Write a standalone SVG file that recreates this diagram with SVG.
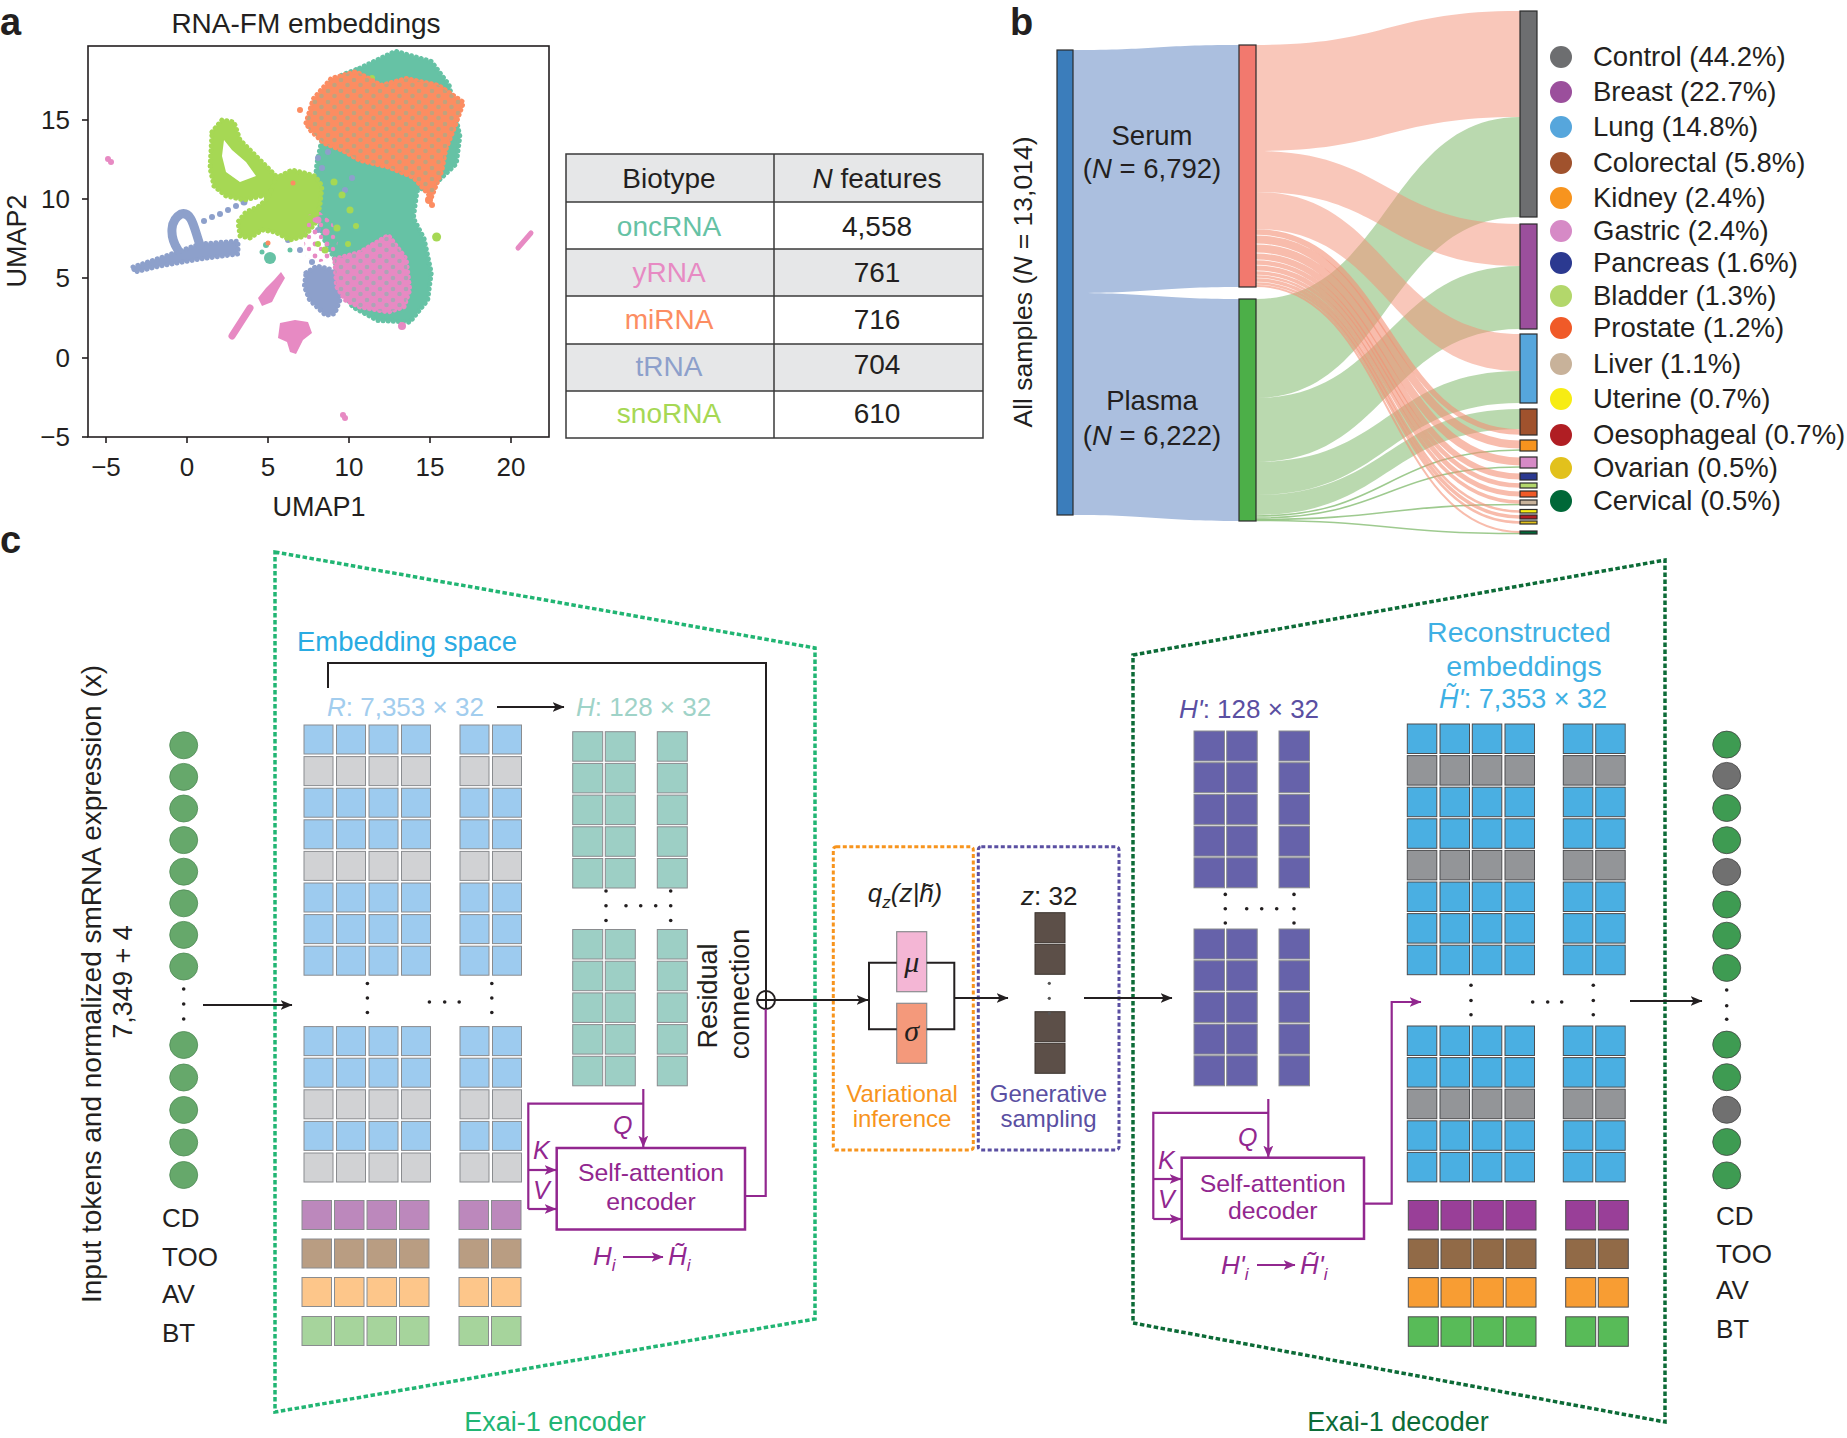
<svg xmlns="http://www.w3.org/2000/svg" width="1847" height="1438" viewBox="0 0 1847 1438">
<style>
text{font-family:'Liberation Sans',Arial,sans-serif;fill:#231f20}
.lbl{font-weight:bold;font-size:38px}
.cell{stroke:#8a8c8f;stroke-width:1}
.dcell{stroke:#4d4d4f;stroke-width:1}
.ln{fill:none;stroke:#231f20;stroke-width:2}
.pl{fill:none;stroke:#92278f;stroke-width:2.2}
.pt{fill:#92278f;font-style:italic}
.dot{fill:#231f20}
.bar{stroke:#2b2b2b;stroke-width:1.2}
.dl{stroke-width:5;stroke-linecap:round;stroke-linejoin:round;stroke-dasharray:0.1 5}
.gfl{fill:#75b35f;opacity:0.5}
.sfl{fill:#f38f75;opacity:0.5}
.gln{fill:none;stroke:#75b35f;stroke-opacity:0.7;stroke-width:1.6}
.sln{fill:none;stroke:#f38f75;stroke-opacity:0.6}
</style>
<defs>
<marker id="ah" viewBox="0 0 12 10" refX="11.5" refY="5" markerWidth="12" markerHeight="10" markerUnits="userSpaceOnUse" orient="auto"><path d="M0,0 L12,5 L0,10 L3,5 Z" fill="#231f20"/></marker>
<marker id="ap" viewBox="0 0 12 10" refX="11.5" refY="5" markerWidth="12" markerHeight="10" markerUnits="userSpaceOnUse" orient="auto"><path d="M0,0 L12,5 L0,10 L3,5 Z" fill="#92278f"/></marker>
<pattern id="gsp" width="13" height="11" patternUnits="userSpaceOnUse"><circle cx="3" cy="3" r="2.3" fill="#66c2a5"/><circle cx="9.5" cy="8" r="2.3" fill="#66c2a5"/></pattern>
<pattern id="psp" width="12" height="12" patternUnits="userSpaceOnUse"><circle cx="3" cy="4" r="2.4" fill="#e78ac3"/><circle cx="9" cy="9" r="2.2" fill="#e78ac3"/></pattern>
<clipPath id="pc"><rect x="88" y="46" width="461" height="391"/></clipPath>
<g id="er" class="cell"><rect x="304" width="29" height="29"/><rect x="336.5" width="29" height="29"/><rect x="369" width="29" height="29"/><rect x="401.5" width="29" height="29"/><rect x="460" width="29" height="29"/><rect x="492.5" width="29" height="29"/></g>
<g id="ef" class="cell"><rect x="302" width="29.5" height="29"/><rect x="334.5" width="29.5" height="29"/><rect x="367" width="29.5" height="29"/><rect x="399.5" width="29.5" height="29"/><rect x="459" width="29.5" height="29"/><rect x="491.5" width="29.5" height="29"/></g>
<g id="hr" class="cell"><rect x="572.7" width="30" height="29.5"/><rect x="605.3" width="30" height="29.5"/><rect x="657.3" width="30" height="29.5"/></g>
<g id="pr" class="cell"><rect x="1194" width="30.5" height="30"/><rect x="1226.7" width="30.5" height="30"/><rect x="1279" width="30.5" height="30"/></g>
<g id="dr" class="dcell"><rect x="1407.3" width="29.5" height="29.5"/><rect x="1440" width="29.5" height="29.5"/><rect x="1472.3" width="29.5" height="29.5"/><rect x="1505" width="29.5" height="29.5"/><rect x="1563.3" width="29.5" height="29.5"/><rect x="1595.7" width="29.5" height="29.5"/></g>
<g id="df" class="dcell"><rect x="1408.3" width="30" height="29.5"/><rect x="1441" width="30" height="29.5"/><rect x="1473.3" width="30" height="29.5"/><rect x="1506" width="30" height="29.5"/><rect x="1565.7" width="30" height="29.5"/><rect x="1598.3" width="30" height="29.5"/></g>
</defs>
<rect width="1847" height="1438" fill="#fff"/>

<!-- Panel labels -->
<text class="lbl" x="0" y="35">a</text>
<text class="lbl" x="1010" y="35">b</text>
<text class="lbl" x="0" y="553">c</text>

<!-- Panel a: UMAP -->
<g id="umap">
<text x="306" y="33" font-size="28" text-anchor="middle">RNA-FM embeddings</text>
<g clip-path="url(#pc)">
<path d="M359.7,68.2 L395.5,51.2 L431.3,61.4 L449.2,85.3 L459.9,136.4 L456.3,163.7 L438.4,180.7 L417,191 L413.4,218.2 L424.1,238.7 L431.3,272.8 L427.7,300 L409.8,322.2 L377.6,320.5 L352.6,306.9 L338.2,283 L334.7,259.1 L323.9,238.7 L313.2,204.6 L316.8,163.7 L323.9,129.6 L316.8,102.3 L341.8,75.1 Z" fill="#66c2a5" stroke="#66c2a5" class="dl"/>
<path d="M133,267 L160,258 L200,244 L238,241 L238,254 L200,259 L160,266 L135,272 Z" fill="#8da0cb" stroke="#8da0cb" class="dl"/>
<path d="M178,250 C169,236 170,220 181,214 C192,211 194,228 200,245" fill="none" stroke="#8da0cb" stroke-width="9" stroke-linecap="round"/>
<g fill="#8da0cb"><circle cx="204" cy="221" r="3"/><circle cx="212" cy="217" r="3"/><circle cx="220" cy="214" r="3"/><circle cx="228" cy="210" r="3"/><circle cx="236" cy="206" r="3"/><circle cx="244" cy="202" r="3.5"/><circle cx="300" cy="190" r="3"/><circle cx="310" cy="205" r="3"/><circle cx="296" cy="225" r="3"/><circle cx="288" cy="240" r="3"/><circle cx="300" cy="250" r="3"/><circle cx="318" cy="230" r="3"/><circle cx="306" cy="178" r="3"/><circle cx="322" cy="168" r="3"/><circle cx="328" cy="152" r="3"/><circle cx="318" cy="158" r="3"/><circle cx="345" cy="190" r="3"/><circle cx="352" cy="178" r="3"/><circle cx="312" cy="262" r="3"/></g>
<path d="M212,132 L222,120 L234,122 L240,140 L252,152 L268,168 L286,186 L280,196 L262,196 L244,200 L226,196 L214,186 L210,168 Z" fill="#a6d854" stroke="#a6d854" class="dl"/>
<path d="M224,140 L232,150 L246,162 L256,176 L240,182 L226,172 L222,156 Z" fill="#fff"/>
<path d="M276,178 L292,170 L305,173 L315,176 L322,186 L320,205 L316,222 L305,236 L290,240 L275,232 L262,230 L250,238 L240,236 L238,222 L246,212 L258,207 L268,198 Z" fill="#a6d854" stroke="#a6d854" class="dl"/>
<path d="M308,215 L320,212 L332,222 L338,240 L335,258 L320,262 L306,258 L304,240 Z" fill="url(#psp)"/>
<g fill="#a6d854"><circle cx="334" cy="182" r="3.5"/><circle cx="342" cy="195" r="3.5"/><circle cx="350" cy="210" r="3.5"/><circle cx="337" cy="228" r="3.5"/><circle cx="356" cy="226" r="3"/><circle cx="348" cy="244" r="3"/><circle cx="325" cy="250" r="3.5"/><circle cx="318" cy="244" r="3"/><circle cx="436.6" cy="237" r="4.5"/><circle cx="372" cy="78" r="3"/><circle cx="380" cy="92" r="3"/><circle cx="370" cy="117" r="2.5"/></g>
<path d="M306,272.8 L316.8,266 L331.1,269.4 L338.2,279.6 L340,300 L334.7,313.7 L325.7,315.4 L309.6,300 L304.3,286.4 Z" fill="#8da0cb" stroke="#8da0cb" class="dl"/>
<path d="M334.7,259.1 L359.7,252.3 L388.3,235.3 L406.2,259.1 L409.8,289.8 L404,306.9 L388.3,312 L359.7,306.9 L345.4,300 L336.5,286.4 Z" fill="#e78ac3" stroke="#e78ac3" class="dl"/>
<path d="M334.7,259.1 L359.7,252.3 L388.3,235.3 L406.2,259.1 L409.8,289.8 L404,306.9 L388.3,312 L359.7,306.9 L345.4,300 L336.5,286.4 Z" fill="url(#gsp)" opacity="0.45"/>
<path d="M306,122.8 L313.2,98.9 L331.1,78.5 L356.1,71.6 L381.2,85.3 L406.2,78.5 L438.4,85.3 L463.5,102.3 L456.3,122.8 L445.6,150 L442,170.5 L431.3,197.8 L413.4,177.3 L388.3,167.1 L359.7,160.3 L341.8,150 L323.9,143.2 L309.6,129.6 Z" fill="#fc8d62" stroke="#fc8d62" class="dl"/>
<path d="M306,122.8 L313.2,98.9 L331.1,78.5 L356.1,71.6 L381.2,85.3 L406.2,78.5 L438.4,85.3 L463.5,102.3 L456.3,122.8 L445.6,150 L442,170.5 L431.3,197.8 L413.4,177.3 L388.3,167.1 L359.7,160.3 L341.8,150 L323.9,143.2 L309.6,129.6 Z" fill="url(#gsp)" opacity="0.4"/>
<g fill="#e78ac3">
<path d="M281,272 L285,278 L278,290 L272,302 L262,306 L258,298 L266,288 L274,280 Z"/>
<path d="M250,308 L232,336" stroke="#e78ac3" stroke-width="7" stroke-linecap="round"/>
<path d="M280,323 L295,320 L308,322 L312,333 L303,340 L296,354 L290,352 L287,342 L278,338 Z"/>
<circle cx="108" cy="159" r="3"/><circle cx="111" cy="162" r="3"/><circle cx="343" cy="415" r="3"/><circle cx="345" cy="418" r="3"/>
<path d="M518,248 L531,233" stroke="#e78ac3" stroke-width="5" stroke-linecap="round"/>
<circle cx="318" cy="220" r="3.5"/><circle cx="326" cy="232" r="3.5"/><circle cx="402" cy="326" r="4"/></g>
<g fill="#66c2a5"><circle cx="270" cy="258" r="6"/><circle cx="266" cy="245" r="3"/><circle cx="262" cy="252" r="2.5"/><circle cx="290" cy="250" r="2.5"/></g>
<g fill="#fc8d62"><circle cx="429" cy="200" r="4"/><circle cx="432" cy="205" r="3"/><circle cx="300" cy="110" r="3"/><circle cx="293" cy="183" r="2.5"/><circle cx="268" cy="243" r="2.5"/></g>
</g>
<rect x="88" y="46" width="461" height="391" fill="none" stroke="#231f20" stroke-width="1.6"/>
<g stroke="#231f20" stroke-width="1.6">
<line x1="82" y1="120" x2="88" y2="120"/><line x1="82" y1="199" x2="88" y2="199"/><line x1="82" y1="278" x2="88" y2="278"/><line x1="82" y1="358" x2="88" y2="358"/><line x1="82" y1="437" x2="88" y2="437"/>
<line x1="106" y1="437" x2="106" y2="443"/><line x1="187" y1="437" x2="187" y2="443"/><line x1="268" y1="437" x2="268" y2="443"/><line x1="349" y1="437" x2="349" y2="443"/><line x1="430" y1="437" x2="430" y2="443"/><line x1="511" y1="437" x2="511" y2="443"/>
</g>
<g font-size="26" text-anchor="end">
<text x="70" y="129">15</text><text x="70" y="208">10</text><text x="70" y="287">5</text><text x="70" y="367">0</text><text x="70" y="446">−5</text>
</g>
<g font-size="26" text-anchor="middle">
<text x="106" y="476">−5</text><text x="187" y="476">0</text><text x="268" y="476">5</text><text x="349" y="476">10</text><text x="430" y="476">15</text><text x="511" y="476">20</text>
<text x="319" y="516" font-size="27">UMAP1</text>
<text transform="translate(26,241) rotate(-90)" font-size="27">UMAP2</text>
</g>
</g>

<!-- Panel a: table -->
<g id="table">
<rect x="566" y="154" width="417" height="48" fill="#e6e7e8"/>
<rect x="566" y="249" width="417" height="47" fill="#e6e7e8"/>
<rect x="566" y="344" width="417" height="47" fill="#e6e7e8"/>
<g stroke="#3a3a3a" stroke-width="1.5" fill="none">
<rect x="566" y="154" width="417" height="284"/>
<line x1="774" y1="154" x2="774" y2="438"/>
<line x1="566" y1="202" x2="983" y2="202"/><line x1="566" y1="249" x2="983" y2="249"/><line x1="566" y1="296" x2="983" y2="296"/><line x1="566" y1="344" x2="983" y2="344"/><line x1="566" y1="391" x2="983" y2="391"/>
</g>
<g font-size="28" text-anchor="middle">
<text x="669" y="188">Biotype</text>
<text x="877" y="188"><tspan font-style="italic">N</tspan> features</text>
<text x="669" y="236" style="fill:#66c2a5">oncRNA</text><text x="877" y="236">4,558</text>
<text x="669" y="282" style="fill:#e78ac3">yRNA</text><text x="877" y="282">761</text>
<text x="669" y="329" style="fill:#fc8d62">miRNA</text><text x="877" y="329">716</text>
<text x="669" y="376" style="fill:#8da0cb">tRNA</text><text x="877" y="374">704</text>
<text x="669" y="423" style="fill:#a6d854">snoRNA</text><text x="877" y="423">610</text>
</g>
</g>

<!-- Panel b: Sankey -->
<g id="sankey">
<path d="M1073,50 C1156,50 1156,45 1239,45 L1239,287 C1156,287 1156,293 1073,293 Z" fill="#abbfdf"/>
<path d="M1073,293 C1156,293 1156,299 1239,299 L1239,521 C1156,521 1156,515 1073,515 Z" fill="#abbfdf"/>
<g id="plasma-flows">
<path class="gfl" d="M1256,299 C1388,299 1388,117 1520,117 L1520,217 C1388,217 1388,398 1256,398 Z"/>
<path class="gfl" d="M1256,398 C1388,398 1388,266 1520,266 L1520,329 C1388,329 1388,462 1256,462 Z"/>
<path class="gfl" d="M1256,462 C1388,462 1388,371 1520,371 L1520,403 C1388,403 1388,495 1256,495 Z"/>
<path class="gfl" d="M1256,495 C1388,495 1388,409 1520,409 L1520,429 C1388,429 1388,515 1256,515 Z"/>
<path class="gln" d="M1256,516 C1388,516 1388,450 1520,450"/>
<path class="gln" d="M1256,518 C1388,518 1388,467 1520,467"/>
<path class="gln" d="M1256,519.5 C1388,519.5 1388,504.5 1520,504.5"/>
<path class="gln" d="M1256,520.5 C1388,520.5 1388,533.5 1520,533.5"/>
</g>
<g id="serum-flows">
<path class="sfl" d="M1256,45 C1388,45 1388,11 1520,11 L1520,117 C1388,117 1388,151 1256,151 Z"/>
<path class="sfl" d="M1256,151 C1388,151 1388,224 1520,224 L1520,266 C1388,266 1388,192 1256,192 Z"/>
<path class="sfl" d="M1256,192 C1388,192 1388,334 1520,334 L1520,371 C1388,371 1388,229 1256,229 Z"/>
<path class="sln" stroke-width="5.5" d="M1256,232 C1388,232 1388,432 1520,432"/>
<path class="sln" stroke-width="8" d="M1256,239.5 C1388,239.5 1388,444.5 1520,444.5"/>
<path class="sln" stroke-width="8" d="M1256,248.5 C1388,248.5 1388,461.5 1520,461.5"/>
<path class="sln" stroke-width="6" d="M1256,256.5 C1388,256.5 1388,476.5 1520,476.5"/>
<path class="sln" stroke-width="4.5" d="M1256,262.5 C1388,262.5 1388,485.5 1520,485.5"/>
<path class="sln" stroke-width="5" d="M1256,268 C1388,268 1388,494 1520,494"/>
<path class="sln" stroke-width="3.5" d="M1256,273 C1388,273 1388,502 1520,502"/>
<path class="sln" stroke-width="2.5" d="M1256,276.5 C1388,276.5 1388,511.5 1520,511.5"/>
<path class="sln" stroke-width="3.5" d="M1256,280 C1388,280 1388,517 1520,517"/>
<path class="sln" stroke-width="2.5" d="M1256,283.5 C1388,283.5 1388,522.5 1520,522.5"/>
<path class="sln" stroke-width="2" d="M1256,286 C1388,286 1388,532 1520,532"/>
</g>
<rect class="bar" x="1057" y="50" width="16" height="465" fill="#3b7dbb"/>
<rect class="bar" x="1239" y="45" width="17" height="242" fill="#f2796e"/>
<rect class="bar" x="1239" y="299" width="17" height="222" fill="#4caf48"/>
<g class="bar">
<rect x="1520" y="11" width="17" height="206" fill="#6d6e70"/>
<rect x="1520" y="224" width="17" height="105" fill="#9b4f9c"/>
<rect x="1520" y="334" width="17" height="69" fill="#56a6dc"/>
<rect x="1520" y="409" width="17" height="26" fill="#a0522d"/>
<rect x="1520" y="440" width="17" height="11" fill="#f7941e"/>
<rect x="1520" y="457" width="17" height="11" fill="#d68ac6"/>
<rect x="1520" y="473" width="17" height="7" fill="#2b3990"/>
<rect x="1520" y="483" width="17" height="5" fill="#b3d76b"/>
<rect x="1520" y="491" width="17" height="6" fill="#f05a28"/>
<rect x="1520" y="500" width="17" height="5" fill="#c8b29a"/>
<rect x="1520" y="509.5" width="17" height="3.5" fill="#f7ec13"/>
<rect x="1520" y="515" width="17" height="4" fill="#b01e23"/>
<rect x="1520" y="521" width="17" height="3" fill="#e2c11c"/>
<rect x="1520" y="531" width="17" height="3" fill="#006838"/>
</g>
<g font-size="27.5" text-anchor="middle">
<text x="1152" y="145">Serum</text>
<text x="1152" y="178">(<tspan font-style="italic">N</tspan> = 6,792)</text>
<text x="1152" y="410">Plasma</text>
<text x="1152" y="445">(<tspan font-style="italic">N</tspan> = 6,222)</text>
<text transform="translate(1032,282) rotate(-90)" font-size="26.5">All samples (<tspan font-style="italic">N</tspan> = 13,014)</text>
</g>
</g>

<!-- Panel b: legend -->
<g id="legend" font-size="27.5">
<circle cx="1561" cy="57" r="11" fill="#6d6e70"/><text x="1593" y="66">Control (44.2%)</text>
<circle cx="1561" cy="92" r="11" fill="#9b4f9c"/><text x="1593" y="101">Breast (22.7%)</text>
<circle cx="1561" cy="127" r="11" fill="#56a6dc"/><text x="1593" y="136">Lung (14.8%)</text>
<circle cx="1561" cy="163" r="11" fill="#a0522d"/><text x="1593" y="172">Colorectal (5.8%)</text>
<circle cx="1561" cy="198" r="11" fill="#f7941e"/><text x="1593" y="207">Kidney (2.4%)</text>
<circle cx="1561" cy="231" r="11" fill="#d68ac6"/><text x="1593" y="240">Gastric (2.4%)</text>
<circle cx="1561" cy="263" r="11" fill="#2b3990"/><text x="1593" y="272">Pancreas (1.6%)</text>
<circle cx="1561" cy="296" r="11" fill="#b3d76b"/><text x="1593" y="305">Bladder (1.3%)</text>
<circle cx="1561" cy="328" r="11" fill="#f05a28"/><text x="1593" y="337">Prostate (1.2%)</text>
<circle cx="1561" cy="364" r="11" fill="#c8b29a"/><text x="1593" y="373">Liver (1.1%)</text>
<circle cx="1561" cy="399" r="11" fill="#f7ec13"/><text x="1593" y="408">Uterine (0.7%)</text>
<circle cx="1561" cy="435" r="11" fill="#b01e23"/><text x="1593" y="444">Oesophageal (0.7%)</text>
<circle cx="1561" cy="468" r="11" fill="#e2c11c"/><text x="1593" y="477">Ovarian (0.5%)</text>
<circle cx="1561" cy="501" r="11" fill="#006838"/><text x="1593" y="510">Cervical (0.5%)</text>
</g>

<!-- Panel c -->
<g id="input">
<text transform="translate(101,984) rotate(-90)" font-size="28" text-anchor="middle">Input tokens and normalized smRNA expression (x)</text>
<text transform="translate(132,982) rotate(-90)" font-size="27" text-anchor="middle">7,349 + 4</text>
<g fill="#66a86b" stroke="#4f8a55" stroke-width="0.8">
<ellipse cx="183.7" cy="745.3" rx="14" ry="13.5"/><ellipse cx="183.7" cy="776.9" rx="14" ry="13.5"/><ellipse cx="183.7" cy="808.5" rx="14" ry="13.5"/><ellipse cx="183.7" cy="840.1" rx="14" ry="13.5"/><ellipse cx="183.7" cy="871.7" rx="14" ry="13.5"/><ellipse cx="183.7" cy="903.3" rx="14" ry="13.5"/><ellipse cx="183.7" cy="934.9" rx="14" ry="13.5"/><ellipse cx="183.7" cy="966.5" rx="14" ry="13.5"/>
<ellipse cx="183.7" cy="1045" rx="14" ry="13.5"/><ellipse cx="183.7" cy="1077.5" rx="14" ry="13.5"/><ellipse cx="183.7" cy="1110" rx="14" ry="13.5"/><ellipse cx="183.7" cy="1142.5" rx="14" ry="13.5"/><ellipse cx="183.7" cy="1175" rx="14" ry="13.5"/>
</g>
<circle class="dot" cx="183.7" cy="989" r="1.8"/><circle class="dot" cx="183.7" cy="1004" r="1.8"/><circle class="dot" cx="183.7" cy="1019" r="1.8"/>
<g font-size="26"><text x="162" y="1227">CD</text><text x="162" y="1266">TOO</text><text x="162" y="1303">AV</text><text x="162" y="1342">BT</text></g>
</g>

<g id="encoder">
<polygon points="275,552 815,648 815,1319 275,1412" fill="none" stroke="#21b573" stroke-width="3.5" stroke-dasharray="4.5 2.5"/>
<text x="297" y="651" font-size="27.5" style="fill:#29abe2">Embedding space</text>
<text x="327" y="716" font-size="26" style="fill:#a2cdee"><tspan font-style="italic">R</tspan>: 7,353 × 32</text>
<text x="576" y="716" font-size="26" style="fill:#9fd3c8"><tspan font-style="italic">H</tspan>: 128 × 32</text>
<g id="R-grid">
<use href="#er" y="725" fill="#9dcbef"/><use href="#er" y="756.6" fill="#d1d2d4"/><use href="#er" y="788.2" fill="#9dcbef"/><use href="#er" y="819.8" fill="#9dcbef"/><use href="#er" y="851.4" fill="#d1d2d4"/><use href="#er" y="883" fill="#9dcbef"/><use href="#er" y="914.6" fill="#9dcbef"/><use href="#er" y="946.2" fill="#9dcbef"/>
<use href="#er" y="1026.6" fill="#9dcbef"/><use href="#er" y="1058.2" fill="#9dcbef"/><use href="#er" y="1089.8" fill="#d1d2d4"/><use href="#er" y="1121.4" fill="#9dcbef"/><use href="#er" y="1153" fill="#d1d2d4"/>
<use href="#ef" y="1200.5" fill="#bc88bc"/><use href="#ef" y="1239" fill="#b99d82"/><use href="#ef" y="1277.5" fill="#fdc68a"/><use href="#ef" y="1316.5" fill="#a6d49c"/>
<circle class="dot" cx="367.4" cy="983.5" r="1.8"/><circle class="dot" cx="367.4" cy="998" r="1.8"/><circle class="dot" cx="367.4" cy="1012.5" r="1.8"/>
<circle class="dot" cx="491.8" cy="983.5" r="1.8"/><circle class="dot" cx="491.8" cy="998" r="1.8"/><circle class="dot" cx="491.8" cy="1012.5" r="1.8"/>
<circle class="dot" cx="429.4" cy="1002" r="1.8"/><circle class="dot" cx="444.7" cy="1002" r="1.8"/><circle class="dot" cx="459.2" cy="1002" r="1.8"/>
</g>
<g id="H-grid">
<use href="#hr" y="731.7" fill="#9dcfc5"/><use href="#hr" y="763.4" fill="#9dcfc5"/><use href="#hr" y="795.1" fill="#9dcfc5"/><use href="#hr" y="826.8" fill="#9dcfc5"/><use href="#hr" y="858.5" fill="#9dcfc5"/>
<use href="#hr" y="929.5" fill="#9dcfc5"/><use href="#hr" y="961.2" fill="#9dcfc5"/><use href="#hr" y="992.9" fill="#9dcfc5"/><use href="#hr" y="1024.6" fill="#9dcfc5"/><use href="#hr" y="1056.3" fill="#9dcfc5"/>
<circle class="dot" cx="606" cy="891" r="1.8"/><circle class="dot" cx="606" cy="905.8" r="1.8"/><circle class="dot" cx="606" cy="920.5" r="1.8"/>
<circle class="dot" cx="670.7" cy="891" r="1.8"/><circle class="dot" cx="670.7" cy="905.8" r="1.8"/><circle class="dot" cx="670.7" cy="920.5" r="1.8"/>
<circle class="dot" cx="626" cy="905.8" r="1.8"/><circle class="dot" cx="640.7" cy="905.8" r="1.8"/><circle class="dot" cx="655.7" cy="905.8" r="1.8"/>
</g>
<g id="sa-encoder">
<rect x="556.7" y="1148" width="188.3" height="81.5" fill="#fff" stroke="#92278f" stroke-width="2.5"/>
<text x="651" y="1181" font-size="24.8" text-anchor="middle" style="fill:#92278f">Self-attention</text>
<text x="651" y="1210" font-size="24.8" text-anchor="middle" style="fill:#92278f">encoder</text>
</g>
<text class="pt" x="613" y="1134" font-size="25">Q</text>
<text class="pt" x="533" y="1159" font-size="25">K</text>
<text class="pt" x="533" y="1199" font-size="25">V</text>
<text class="pt" x="593" y="1265" font-size="26">H<tspan font-size="17" dy="6">i</tspan></text>
<text class="pt" x="668" y="1265" font-size="26">H̃<tspan font-size="17" dy="6">i</tspan></text>
<g font-size="27">
<text transform="translate(717,996) rotate(-90)" text-anchor="middle">Residual</text>
<text transform="translate(749,994) rotate(-90)" text-anchor="middle">connection</text>
</g>
<text x="555" y="1431" font-size="27" text-anchor="middle" style="fill:#21b573">Exai-1 encoder</text>
</g>

<g id="vae">
<rect x="833.3" y="846.7" width="140" height="303.3" rx="3" fill="none" stroke="#f7941d" stroke-width="3" stroke-dasharray="4 2.5"/>
<rect x="978.3" y="846.7" width="140.7" height="303.3" rx="3" fill="none" stroke="#5a4fa2" stroke-width="3" stroke-dasharray="4 2.5"/>
<text x="905" y="902" font-size="26" text-anchor="middle" font-style="italic">q<tspan font-size="17" dy="6">z</tspan><tspan dy="-6">(z|h̃)</tspan></text>
<rect x="896.7" y="931.7" width="30" height="60" fill="#f4b6d5" stroke="#8a8c8f" stroke-width="1.2"/>
<rect x="896.7" y="1003.3" width="30" height="60" fill="#f4997b" stroke="#8a8c8f" stroke-width="1.2"/>
<text x="911.7" y="972" font-size="30" text-anchor="middle" font-style="italic" style="font-family:'Liberation Serif','Times New Roman',serif">μ</text>
<text x="911.7" y="1041" font-size="30" text-anchor="middle" font-style="italic" style="font-family:'Liberation Serif','Times New Roman',serif">σ</text>
<text x="902" y="1102" font-size="24" text-anchor="middle" style="fill:#f7941d">Variational</text>
<text x="902" y="1127" font-size="24" text-anchor="middle" style="fill:#f7941d">inference</text>
<text x="1048.5" y="1102" font-size="24" text-anchor="middle" style="fill:#5a4fa2">Generative</text>
<text x="1048.5" y="1127" font-size="24" text-anchor="middle" style="fill:#5a4fa2">sampling</text>
<text x="1049.3" y="905" font-size="26" text-anchor="middle"><tspan font-style="italic">z</tspan>: 32</text>
<g fill="#5c4f48" stroke="#3a322d" stroke-width="1">
<rect x="1035" y="912.7" width="30" height="30"/><rect x="1035" y="944.3" width="30" height="30"/><rect x="1035" y="1011.7" width="30" height="30"/><rect x="1035" y="1043.3" width="30" height="30"/>
</g>
<circle cx="1049.3" cy="983.3" r="1.6" fill="#555"/><circle cx="1049.3" cy="998.3" r="1.6" fill="#555"/><circle cx="1049.3" cy="1013.3" r="1.6" fill="#555"/>
</g>

<g id="decoder">
<polygon points="1133,655 1665,560 1665,1422 1133,1323" fill="none" stroke="#0c6b37" stroke-width="3.5" stroke-dasharray="4.5 2.5"/>
<text x="1249" y="718" font-size="26" text-anchor="middle" style="fill:#5a4fa2"><tspan font-style="italic">H'</tspan>: 128 × 32</text>
<text x="1519" y="642" font-size="28.5" text-anchor="middle" style="fill:#3eb0e4">Reconstructed</text>
<text x="1524" y="676" font-size="28.5" text-anchor="middle" style="fill:#3eb0e4">embeddings</text>
<text x="1523" y="708" font-size="27" text-anchor="middle" style="fill:#3eb0e4"><tspan font-style="italic">H̃'</tspan>: 7,353 × 32</text>
<g id="Hp-grid">
<use href="#pr" y="731" fill="#6662aa"/><use href="#pr" y="762.7" fill="#6662aa"/><use href="#pr" y="794.4" fill="#6662aa"/><use href="#pr" y="826.1" fill="#6662aa"/><use href="#pr" y="857.8" fill="#6662aa"/>
<use href="#pr" y="929" fill="#6662aa"/><use href="#pr" y="960.7" fill="#6662aa"/><use href="#pr" y="992.4" fill="#6662aa"/><use href="#pr" y="1024.1" fill="#6662aa"/><use href="#pr" y="1055.8" fill="#6662aa"/>
<circle class="dot" cx="1225.3" cy="894.4" r="1.8"/><circle class="dot" cx="1225.3" cy="908.7" r="1.8"/><circle class="dot" cx="1225.3" cy="923" r="1.8"/>
<circle class="dot" cx="1294" cy="894.4" r="1.8"/><circle class="dot" cx="1294" cy="908.7" r="1.8"/><circle class="dot" cx="1294" cy="923" r="1.8"/>
<circle class="dot" cx="1246.7" cy="908.7" r="1.8"/><circle class="dot" cx="1261.7" cy="908.7" r="1.8"/><circle class="dot" cx="1276.7" cy="908.7" r="1.8"/>
</g>
<g id="recon-grid">
<use href="#dr" y="724" fill="#4aafe2"/><use href="#dr" y="755.6" fill="#939598"/><use href="#dr" y="787.2" fill="#4aafe2"/><use href="#dr" y="818.8" fill="#4aafe2"/><use href="#dr" y="850.4" fill="#939598"/><use href="#dr" y="882" fill="#4aafe2"/><use href="#dr" y="913.6" fill="#4aafe2"/><use href="#dr" y="945.2" fill="#4aafe2"/>
<use href="#dr" y="1026" fill="#4aafe2"/><use href="#dr" y="1057.6" fill="#4aafe2"/><use href="#dr" y="1089.2" fill="#939598"/><use href="#dr" y="1120.8" fill="#4aafe2"/><use href="#dr" y="1152.4" fill="#4aafe2"/>
<use href="#df" y="1200.5" fill="#993f98"/><use href="#df" y="1239" fill="#916a47"/><use href="#df" y="1277.6" fill="#f89d33"/><use href="#df" y="1316.8" fill="#58bb58"/>
<circle class="dot" cx="1471" cy="985.2" r="1.8"/><circle class="dot" cx="1471" cy="1000.5" r="1.8"/><circle class="dot" cx="1471" cy="1014.8" r="1.8"/>
<circle class="dot" cx="1593.3" cy="985.2" r="1.8"/><circle class="dot" cx="1593.3" cy="1000.5" r="1.8"/><circle class="dot" cx="1593.3" cy="1014.8" r="1.8"/>
<circle class="dot" cx="1532.7" cy="1002" r="1.8"/><circle class="dot" cx="1547.7" cy="1002" r="1.8"/><circle class="dot" cx="1561.7" cy="1002" r="1.8"/>
</g>
<g id="sa-decoder">
<rect x="1181.7" y="1157.7" width="182.3" height="81.1" fill="#fff" stroke="#92278f" stroke-width="2.5"/>
<text x="1272.8" y="1192" font-size="24.8" text-anchor="middle" style="fill:#92278f">Self-attention</text>
<text x="1272.8" y="1219" font-size="24.8" text-anchor="middle" style="fill:#92278f">decoder</text>
</g>
<text class="pt" x="1238" y="1146" font-size="25">Q</text>
<text class="pt" x="1158" y="1169" font-size="25">K</text>
<text class="pt" x="1158" y="1208" font-size="25">V</text>
<text class="pt" x="1221" y="1274" font-size="26">H'<tspan font-size="17" dy="6">i</tspan></text>
<text class="pt" x="1300" y="1274" font-size="26">H̃'<tspan font-size="17" dy="6">i</tspan></text>
<text x="1398" y="1431" font-size="27" text-anchor="middle" style="fill:#0c6b37">Exai-1 decoder</text>
</g>

<g id="output">
<g stroke="#444" stroke-width="0.8">
<ellipse cx="1726.7" cy="744.6" rx="14" ry="13.5" fill="#3e9b52"/><ellipse cx="1726.7" cy="775.9" rx="14" ry="13.5" fill="#707070"/><ellipse cx="1726.7" cy="808" rx="14" ry="13.5" fill="#3e9b52"/><ellipse cx="1726.7" cy="840.2" rx="14" ry="13.5" fill="#3e9b52"/><ellipse cx="1726.7" cy="871.9" rx="14" ry="13.5" fill="#707070"/><ellipse cx="1726.7" cy="904.5" rx="14" ry="13.5" fill="#3e9b52"/><ellipse cx="1726.7" cy="935.7" rx="14" ry="13.5" fill="#3e9b52"/><ellipse cx="1726.7" cy="967.9" rx="14" ry="13.5" fill="#3e9b52"/>
<ellipse cx="1726.7" cy="1044.6" rx="14" ry="13.5" fill="#3e9b52"/><ellipse cx="1726.7" cy="1077.2" rx="14" ry="13.5" fill="#3e9b52"/><ellipse cx="1726.7" cy="1109.8" rx="14" ry="13.5" fill="#707070"/><ellipse cx="1726.7" cy="1142" rx="14" ry="13.5" fill="#3e9b52"/><ellipse cx="1726.7" cy="1175.4" rx="14" ry="13.5" fill="#3e9b52"/>
</g>
<circle class="dot" cx="1726.7" cy="990" r="1.8"/><circle class="dot" cx="1726.7" cy="1005.8" r="1.8"/><circle class="dot" cx="1726.7" cy="1019.2" r="1.8"/>
<g font-size="26"><text x="1716" y="1225">CD</text><text x="1716" y="1263">TOO</text><text x="1716" y="1299">AV</text><text x="1716" y="1338">BT</text></g>
</g>

<g id="connectors">
<path class="ln" d="M203,1005 L292,1005" marker-end="url(#ah)"/>
<path class="ln" d="M497,707 L564,707" marker-end="url(#ah)"/>
<path class="ln" d="M328,688 L328,663 L766,663 L766,991"/>
<circle cx="766" cy="1000" r="9" fill="#fff" stroke="#231f20" stroke-width="2"/>
<path class="ln" d="M757,1000 L775,1000 M766,991 L766,1009"/>
<path class="ln" d="M775,1000 L868,1000" marker-end="url(#ah)"/>
<path class="ln" stroke-width="2.5" d="M896.7,962.7 L869,962.7 L869,1029.3 L896.7,1029.3 M926.7,962.7 L954.3,962.7 L954.3,1029.3 L926.7,1029.3"/>
<path class="ln" d="M954.3,998 L1008,998" marker-end="url(#ah)"/>
<path class="ln" d="M1084,998 L1172,998" marker-end="url(#ah)"/>
<path class="ln" d="M1630,1001 L1702,1001" marker-end="url(#ah)"/>
<path class="pl" d="M643.3,1089 L643.3,1147" marker-end="url(#ap)"/>
<path class="pl" d="M643.3,1103.6 L528.3,1103.6 L528.3,1209"/>
<path class="pl" d="M528.3,1170 L556,1170" marker-end="url(#ap)"/>
<path class="pl" d="M528.3,1209 L556,1209" marker-end="url(#ap)"/>
<path class="pl" d="M745,1196 L765.7,1196 L765.7,1009"/>
<path class="pl" d="M623,1257 L663,1257" marker-end="url(#ap)"/>
<path class="pl" d="M1268.3,1099 L1268.3,1157" marker-end="url(#ap)"/>
<path class="pl" d="M1268.3,1112.8 L1153.3,1112.8 L1153.3,1219"/>
<path class="pl" d="M1153.3,1179 L1181,1179" marker-end="url(#ap)"/>
<path class="pl" d="M1153.3,1219 L1181,1219" marker-end="url(#ap)"/>
<path class="pl" d="M1364,1203.6 L1391.7,1203.6 L1391.7,1002 L1421,1002" marker-end="url(#ap)"/>
<path class="pl" d="M1257,1265 L1295,1265" marker-end="url(#ap)"/>
</g>
</svg>
